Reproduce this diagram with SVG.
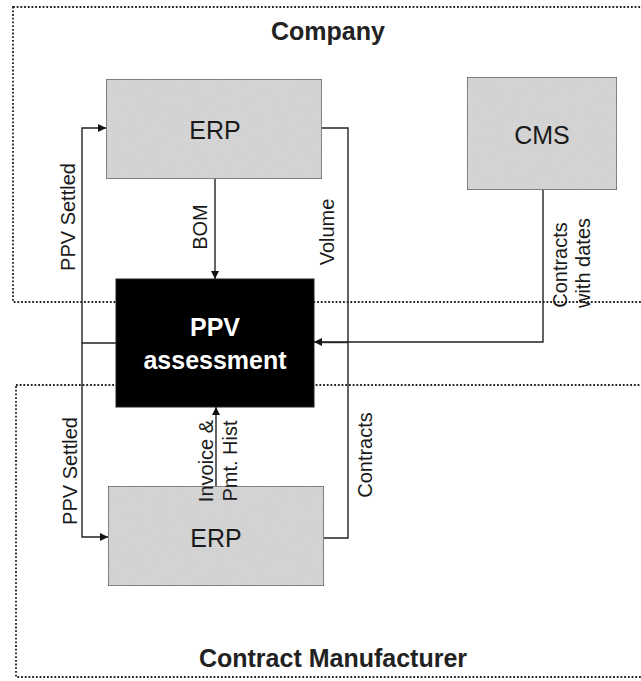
<svg xmlns="http://www.w3.org/2000/svg" width="641" height="681" viewBox="0 0 641 681">
<defs>
<style>
.zone{fill:none;stroke:#222;stroke-width:1.8;stroke-dasharray:1.8 1.9}
.sys{fill:#d6d6d6;stroke:#333;stroke-width:1.3}
.core{fill:#000;stroke:#222;stroke-width:1}
.ln{fill:none;stroke:#222;stroke-width:1.4}
.title{font-family:"Liberation Sans",Arial,sans-serif;font-weight:bold;font-size:25px;fill:#222;text-anchor:middle}
.big{font-family:"Liberation Sans",Arial,sans-serif;font-size:25px;fill:#1a1a1a;text-anchor:middle}
.core-t{font-family:"Liberation Sans",Arial,sans-serif;font-weight:bold;font-size:25px;fill:#fff;text-anchor:middle}
.lbl{font-family:"Liberation Sans",Arial,sans-serif;font-size:20px;fill:#1a1a1a;text-anchor:middle}
</style>
<marker id="ah" viewBox="0 0 10 10" refX="10" refY="5" markerWidth="9" markerHeight="8" markerUnits="userSpaceOnUse" orient="auto">
<path d="M0,0 L10,5 L0,10 z" fill="#111"/>
</marker>
<filter id="grain" x="0" y="0" width="1" height="1">
<feTurbulence type="fractalNoise" baseFrequency="0.9" numOctaves="2" seed="3" result="n"/>
<feColorMatrix in="n" type="matrix" values="0 0 0 0 0.55  0 0 0 0 0.55  0 0 0 0 0.55  0 0 0 0.35 0" result="g"/>
<feComposite in="g" in2="SourceGraphic" operator="atop"/>
</filter>
</defs>

<g id="company">
<rect class="zone" x="13" y="7" width="640" height="295"/>
<text class="title" x="328" y="40">Company</text>
</g>
<g id="contract-manufacturer">
<rect class="zone" x="16" y="385" width="640" height="292"/>
<text class="title" x="333" y="667">Contract Manufacturer</text>
</g>

<g id="erp-company">
<rect class="sys" x="106" y="79" width="216" height="100" filter="url(#grain)"/>
<text class="big" x="215" y="139">ERP</text>
</g>
<g id="cms">
<rect class="sys" x="467" y="77" width="150" height="113" filter="url(#grain)"/>
<text class="big" x="542" y="144">CMS</text>
</g>
<g id="ppv-assessment">
<rect class="core" x="116" y="279" width="198" height="128"/>
<text class="core-t" x="215" y="336">PPV</text>
<text class="core-t" x="215" y="369">assessment</text>
</g>
<g id="erp-cm">
<rect class="sys" x="108" y="486" width="216" height="100" filter="url(#grain)"/>
<text class="big" x="216" y="547">ERP</text>
</g>

<g id="connectors">
<path class="ln" d="M116,343 H82 V128 H106" marker-end="url(#ah)"/>
<path class="ln" d="M82,343 V537 H108" marker-end="url(#ah)"/>
<path class="ln" d="M215,179 V279" marker-end="url(#ah)"/>
<path class="ln" d="M322,128 H348 V538 H324"/>
<path class="ln" d="M543,190 V342 H314" marker-end="url(#ah)"/>
<path class="ln" d="M348,342.5 H320" stroke-width="2.6"/>
<path class="ln" d="M216,486 V407" marker-end="url(#ah)"/>
<text class="lbl" transform="translate(75,217) rotate(-90)">PPV Settled</text>
<text class="lbl" transform="translate(77,471) rotate(-90)">PPV Settled</text>
<text class="lbl" transform="translate(207,227) rotate(-90)">BOM</text>
<text class="lbl" transform="translate(334,232) rotate(-90)">Volume</text>
<text class="lbl" transform="translate(567,265) rotate(-90)">Contracts</text>
<text class="lbl" transform="translate(590,263) rotate(-90)">with dates</text>
<text class="lbl" transform="translate(213,461) rotate(-90)">Invoice &amp;</text>
<text class="lbl" transform="translate(237,461) rotate(-90)">Pmt. Hist</text>
<text class="lbl" transform="translate(372,455) rotate(-90)">Contracts</text>
</g>
</svg>
